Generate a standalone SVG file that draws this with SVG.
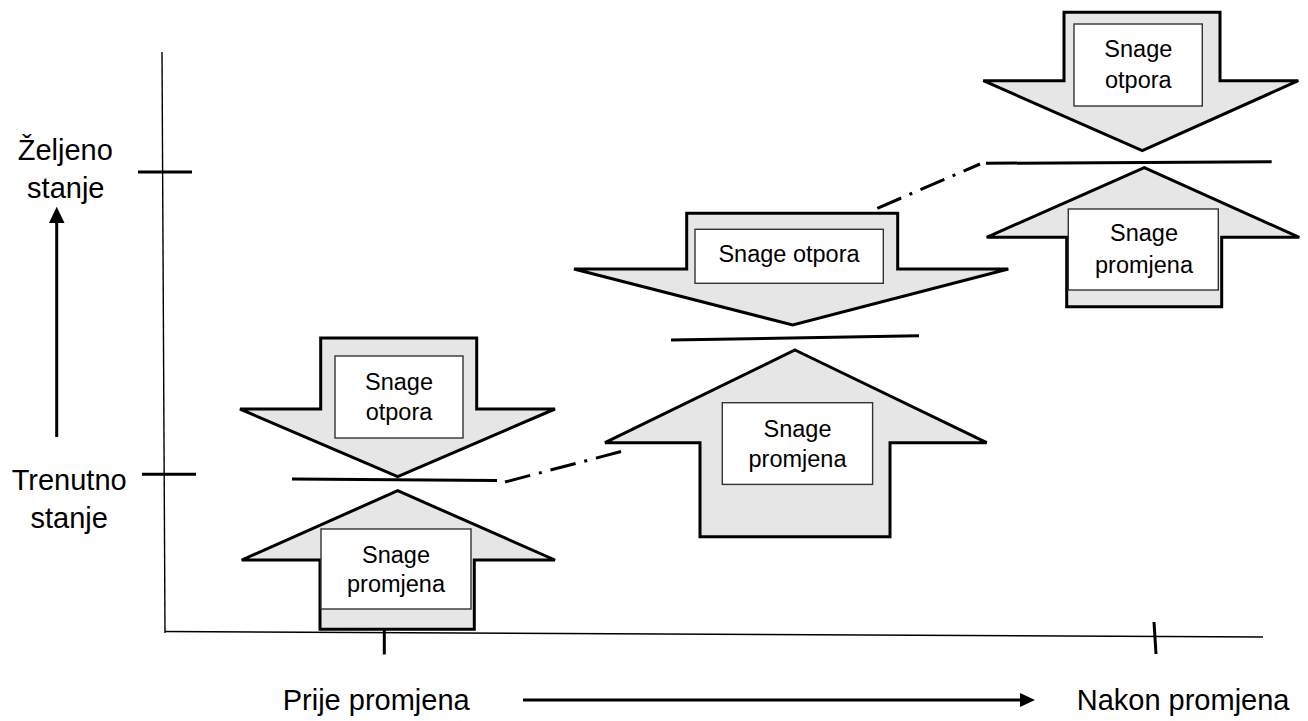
<svg xmlns="http://www.w3.org/2000/svg" width="1308" height="721" viewBox="0 0 1308 721">
<style>
.bg{fill:#ffffff}
.arrow{fill:#e6e6e6;stroke:#000;stroke-width:3;stroke-linejoin:miter}
.box{fill:#ffffff;stroke:#333;stroke-width:1.4}
.lbl{font-family:"Liberation Sans",Arial,sans-serif;font-size:23.5px;fill:#000;text-anchor:middle}
.ax{font-family:"Liberation Sans",Arial,sans-serif;font-size:29px;fill:#000}
.thick{stroke:#000;stroke-width:3;fill:none}
.thin{stroke:#000;stroke-width:1.4;fill:none}
.dd{stroke:#000;stroke-width:3;fill:none;stroke-dasharray:26 9 3 9}
</style>
<rect class="bg" x="0" y="0" width="1308" height="721"/>
<g id="axes">
<line class="thin" x1="162" y1="52" x2="165" y2="633"/>
<line class="thin" x1="165" y1="631.5" x2="1263" y2="637"/>
<line class="thick" x1="138" y1="172" x2="192" y2="172"/>
<line class="thick" x1="142" y1="474.3" x2="196" y2="474.3"/>
<line class="thick" x1="384.3" y1="624" x2="384.3" y2="654.5"/>
<line class="thick" x1="1154" y1="622" x2="1156" y2="654"/>
<line class="thick" x1="56.7" y1="437" x2="56.7" y2="220"/>
<polygon points="56.7,206.7 49,223 64.5,223" fill="#000"/>
<line class="thick" x1="523" y1="700" x2="1022" y2="700"/>
<polygon points="1035,700 1020,693 1020,707" fill="#000"/>
<text class="ax" x="65.3" y="160" text-anchor="middle">Željeno</text>
<text class="ax" x="65.8" y="198.3" text-anchor="middle">stanje</text>
<text class="ax" x="69.2" y="490" text-anchor="middle">Trenutno</text>
<text class="ax" x="69.2" y="528.3" text-anchor="middle">stanje</text>
<text class="ax" x="282.7" y="710">Prije promjena</text>
<text class="ax" x="1076.7" y="710">Nakon promjena</text>
</g>
<g id="connectors">
<line class="dd" x1="505" y1="482" x2="627" y2="450"/>
<line class="dd" x1="877.3" y1="208.3" x2="980" y2="164"/>
</g>
<g id="left-otpor">
<path class="arrow" d="M320.7,338 L476.7,338 L476.7,409 L555,409 L397.7,476.7 L240,409 L320.7,409 Z"/>
<rect class="box" x="335" y="356" width="128" height="82"/>
<text class="lbl" x="399" y="390">Snage</text>
<text class="lbl" x="399" y="420">otpora</text>
</g>
<g id="left-level">
<line class="thick" x1="292" y1="479" x2="497" y2="480.5"/>
</g>
<g id="left-promjena">
<path class="arrow" d="M397.7,490.7 L555,560 L474.3,560 L474.3,629.3 L320,629.3 L320,560 L241.7,560 Z"/>
<rect class="box" x="321" y="529" width="150" height="80"/>
<text class="lbl" x="396" y="563">Snage</text>
<text class="lbl" x="396" y="592">promjena</text>
</g>
<g id="mid-otpor">
<path class="arrow" d="M686.7,213.3 L897.7,213.3 L897.7,269 L1008.3,269 L792.7,325 L574,269 L686.7,269 Z"/>
<rect class="box" x="695" y="229.3" width="188.3" height="54"/>
<text class="lbl" x="789" y="261.7">Snage otpora</text>
</g>
<g id="mid-level">
<line class="thick" x1="671" y1="340" x2="919" y2="335.7"/>
</g>
<g id="mid-promjena">
<path class="arrow" d="M795,350 L986.7,442.7 L890,442.7 L890,536.7 L700,536.7 L700,442.7 L605,442.7 Z"/>
<rect class="box" x="722.3" y="402.7" width="150.3" height="81.7"/>
<text class="lbl" x="797.5" y="436.7">Snage</text>
<text class="lbl" x="797.5" y="466.7">promjena</text>
</g>
<g id="right-otpor">
<path class="arrow" d="M1064,12.3 L1220,12.3 L1220,80.7 L1298.3,80.7 L1142.3,150.7 L983.3,80.7 L1064,80.7 Z"/>
<rect class="box" x="1074" y="24" width="128.3" height="82"/>
<text class="lbl" x="1138.3" y="56.7">Snage</text>
<text class="lbl" x="1138.3" y="88.3">otpora</text>
</g>
<g id="right-level">
<line class="thick" x1="986" y1="163.3" x2="1271.7" y2="161.7"/>
</g>
<g id="right-promjena">
<path class="arrow" d="M1144.3,167.7 L1299.3,237.3 L1221.7,237.3 L1221.7,306.7 L1066.7,306.7 L1066.7,237.3 L986.7,237.3 Z"/>
<rect class="box" x="1068.3" y="209" width="150" height="81"/>
<text class="lbl" x="1144" y="240.7">Snage</text>
<text class="lbl" x="1144" y="272.7">promjena</text>
</g>
</svg>
